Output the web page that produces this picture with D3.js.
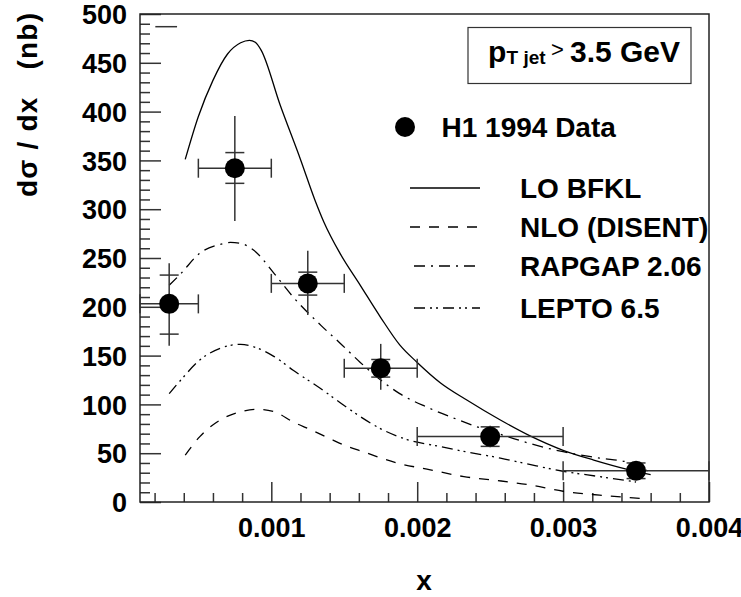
<!DOCTYPE html>
<html>
<head>
<meta charset="utf-8">
<script src="https://cdn.jsdelivr.net/npm/d3@7"></script>
<style>
  body { margin: 0; background: #fff; }
  svg { display: block; font-family: "Liberation Sans", Arial, Helvetica, sans-serif; font-weight: bold; }
</style>
</head>
<body>
<div id="chart"></div>
<script>
// Datos H1 1994 (dsigma/dx en nb)
const dataX = [0.0003, 0.00075, 0.00125, 0.00175, 0.0025, 0.0035];
const dataY = [203, 342, 224, 137, 67, 32];
const binLo = [0.0001, 0.0005, 0.001, 0.0015, 0.002, 0.003];
const binHi = [0.0005, 0.001, 0.0015, 0.002, 0.003, 0.004];
const statUp = [232.5, 358, 235.5, 146, 77, 40];
const statDown = [172, 326.5, 212, 128, 57, 24];
const totUp = [244.5, 395.5, 257.5, 162, 78, 40];
const totDown = [160, 288, 191.5, 115, 56, 24];

// Curvas teoricas
const bfklX = [0.00041, 0.0005, 0.0006, 0.0007, 0.00079, 0.00085, 0.00089, 0.00093, 0.00106, 0.0012, 0.0013, 0.00136, 0.00147, 0.00161, 0.00175, 0.00188, 0.002, 0.00216, 0.00234, 0.00257, 0.00277, 0.003, 0.00321, 0.00344, 0.0036];
const bfklY = [351, 395, 432, 459, 470.5, 473, 471, 463, 407, 351, 309, 287, 255, 222, 189, 161, 143, 122, 104.5, 84, 68, 53, 43, 33.5, 28];

const nloX = [0.00041, 0.00051, 0.00065, 0.00079, 0.0009, 0.00102, 0.00115, 0.00127, 0.0014, 0.00152, 0.00162, 0.00186, 0.00209, 0.00232, 0.00255, 0.00277, 0.003, 0.00325, 0.00355];
const nloY = [48, 67, 84, 92.5, 95, 92.5, 82, 74, 65, 57, 52, 40, 33, 26, 22, 17.5, 11, 7, 3.5];

const rapgapX = [0.0003, 0.00038, 0.00051, 0.00065, 0.00072, 0.00079, 0.00088, 0.00102, 0.00115, 0.00134, 0.00147, 0.00161, 0.00175, 0.00188, 0.00207, 0.00225, 0.00243, 0.00262, 0.00277, 0.003, 0.00325, 0.00346, 0.0036];
const rapgapY = [222, 234, 255, 264, 266, 265, 258, 234, 210, 181, 163, 143, 125, 111, 97, 86, 76, 67, 60, 51.5, 45, 40, 30];

const leptoX = [0.0003, 0.00038, 0.00051, 0.00065, 0.00079, 0.00088, 0.00102, 0.00115, 0.00134, 0.00147, 0.00161, 0.00175, 0.00193, 0.00215, 0.00235, 0.00257, 0.00277, 0.003, 0.00325, 0.0035];
const leptoY = [111, 125, 145.5, 157.5, 161.5, 159, 149, 135, 116, 102, 87.5, 75, 64, 57, 51, 45, 38.5, 31.5, 26, 20.5];

// marca suelta arriba a la izquierda
const strayX = [0.000205, 0.000354];
const strayY = [487, 487];

const legendLabels = ["LO BFKL", "NLO (DISENT)", "RAPGAP 2.06", "LEPTO 6.5"];
const xMajorTicks = [0.001, 0.002, 0.003, 0.004];
const yMajorTicks = [0, 50, 100, 150, 200, 250, 300, 350, 400, 450, 500];

const width = 741, height = 597;
const mLeft = 140, mRight = 709, mTop = 14, mBottom = 502;

const svg = d3.select("#chart").append("svg")
    .attr("width", width)
    .attr("height", height);

const x = d3.scaleLinear().domain([0.0001, 0.004]).range([mLeft, mRight]);
const y = d3.scaleLinear().domain([0, 500]).range([mBottom, mTop]);

// Ejes: ticks hacia dentro estilo ROOT
const xMinor = d3.range(0.0002, 0.00399, 0.0002).filter(v => Math.abs(v / 0.001 - Math.round(v / 0.001)) > 1e-6);
const yMinor = d3.range(10, 500, 10).filter(v => v % 50 !== 0);

function styleAxis(g) {
    g.select(".domain").remove();
    g.selectAll("line").attr("stroke", "#333").attr("stroke-width", 1.5);
    g.selectAll("text").attr("fill", "#000").style("font-size", "27px").style("font-weight", "bold")
        .style("font-family", "'Liberation Sans', Arial, sans-serif");
}

svg.append("g")
    .attr("transform", `translate(0,${mBottom})`)
    .call(d3.axisBottom(x).tickValues(xMinor).tickSize(-9).tickFormat(""))
    .call(styleAxis);

svg.append("g")
    .attr("transform", `translate(0,${mBottom})`)
    .call(d3.axisBottom(x).tickValues(xMajorTicks).tickSize(-20).tickPadding(16).tickFormat(d3.format(".3f")))
    .call(styleAxis);

svg.append("g")
    .attr("transform", `translate(${mLeft},0)`)
    .call(d3.axisLeft(y).tickValues(yMinor).tickSize(-10).tickFormat(""))
    .call(styleAxis);

svg.append("g")
    .attr("transform", `translate(${mLeft},0)`)
    .call(d3.axisLeft(y).tickValues(yMajorTicks).tickSize(-21).tickPadding(13))
    .call(styleAxis)
    .selectAll("text").attr("dy", "0.36em");

// Marco
svg.append("rect")
    .attr("x", mLeft).attr("y", mTop)
    .attr("width", mRight - mLeft).attr("height", mBottom - mTop)
    .attr("fill", "none").attr("stroke", "#222").attr("stroke-width", 1.5);

// Curvas
const line = d3.line().x(d => x(d[0])).y(d => y(d[1])).curve(d3.curveMonotoneX);
const curves = [
    { xs: bfklX, ys: bfklY, dash: null },
    { xs: nloX, ys: nloY, dash: "10,9" },
    { xs: rapgapX, ys: rapgapY, dash: "11,6,2,6" },
    { xs: leptoX, ys: leptoY, dash: "11,5,2,4,2,5" }
];

svg.selectAll(".curve")
    .data(curves)
    .enter()
    .append("path")
    .attr("class", "curve")
    .attr("d", c => line(c.xs.map((v, i) => [v, c.ys[i]])))
    .attr("fill", "none")
    .attr("stroke", "#000")
    .attr("stroke-width", 1.3)
    .attr("stroke-dasharray", c => c.dash);

svg.append("path")
    .attr("d", d3.line().x(d => x(d[0])).y(d => y(d[1]))(strayX.map((v, i) => [v, strayY[i]])))
    .attr("stroke", "#333").attr("stroke-width", 1.5);

// Barras de error
const pts = dataX.map((v, i) => ({
    x: v, y: dataY[i], lo: binLo[i], hi: binHi[i],
    su: statUp[i], sd: statDown[i], tu: totUp[i], td: totDown[i]
}));

const err = svg.append("g").attr("stroke", "#333").attr("stroke-width", 1.5);
const cap = 9.5;
pts.forEach(p => {
    err.append("line").attr("x1", x(p.lo)).attr("x2", x(p.hi)).attr("y1", y(p.y)).attr("y2", y(p.y));
    err.append("line").attr("x1", x(p.x)).attr("x2", x(p.x)).attr("y1", y(p.tu)).attr("y2", y(p.td));
    [p.lo, p.hi].forEach(v => {
        err.append("line").attr("x1", x(v)).attr("x2", x(v)).attr("y1", y(p.y) - cap).attr("y2", y(p.y) + cap);
    });
    [p.su, p.sd].forEach(v => {
        err.append("line").attr("x1", x(p.x) - cap).attr("x2", x(p.x) + cap).attr("y1", y(v)).attr("y2", y(v));
    });
});

svg.selectAll(".punto")
    .data(pts)
    .enter()
    .append("circle")
    .attr("class", "punto")
    .attr("cx", d => x(d.x))
    .attr("cy", d => y(d.y))
    .attr("r", 10)
    .attr("fill", "#000");

// Titulos de ejes
svg.append("text")
    .attr("transform", "translate(37,105) rotate(-90)")
    .attr("text-anchor", "middle")
    .attr("textLength", 184)
    .attr("lengthAdjust", "spacing")
    .style("white-space", "pre")
    .style("font-size", "28px")
    .text("d\u03c3 / dx   (nb)");

svg.append("text")
    .attr("x", 424).attr("y", 590)
    .attr("text-anchor", "middle")
    .style("font-size", "28px")
    .text("x");

// Caja pT
svg.append("rect")
    .attr("x", 468).attr("y", 27.5).attr("width", 223).attr("height", 56)
    .attr("fill", "#fff").attr("stroke", "#333").attr("stroke-width", 1.2);

const pt = svg.append("text").attr("x", 488).attr("y", 61.5).style("font-size", "30px");
pt.append("tspan").text("p");
pt.append("tspan").attr("x", 506.5).attr("y", 64).style("font-size", "19px").text("T jet");
pt.append("tspan").attr("x", 551).attr("y", 57).style("font-size", "22px").style("font-weight", "normal").text(">");
pt.append("tspan").attr("x", 570).attr("y", 61.5).text("3.5 GeV");

// Leyenda
svg.append("circle").attr("cx", 405).attr("cy", 127).attr("r", 10).attr("fill", "#000");
svg.append("text").attr("x", 441.5).attr("y", 137).style("font-size", "28px").text("H1 1994 Data");

const legendY = [188, 227, 266, 308];
const legend = svg.selectAll(".leg")
    .data(legendLabels)
    .enter()
    .append("g")
    .attr("class", "leg")
    .attr("transform", (d, i) => `translate(0,${legendY[i]})`);

legend.append("line")
    .attr("x1", (d, i) => i === 0 || i === 1 ? 410 : 414)
    .attr("x2", 480)
    .attr("stroke", "#000")
    .attr("stroke-width", 1.3)
    .attr("stroke-dasharray", (d, i) => curves[i].dash);

legend.append("text")
    .attr("x", 520)
    .attr("y", 10)
    .style("font-size", "28px")
    .text(d => d);
</script>
</body>
</html>
